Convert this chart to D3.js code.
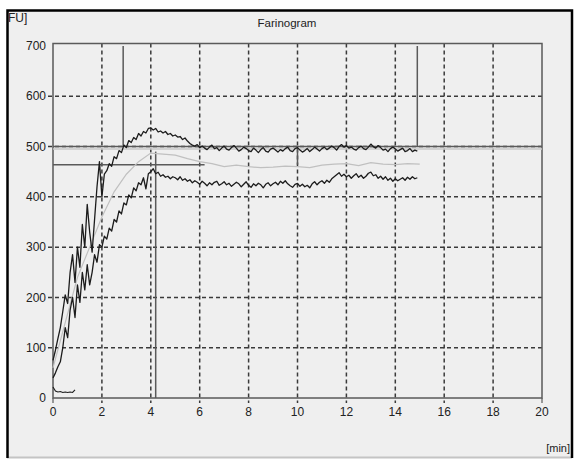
<!DOCTYPE html>
<html>
<head>
<meta charset="utf-8">
<script src="https://d3js.org/d3.v7.min.js"></script>
<style>
    body { margin: 0; background: #ffffff; }
    text { font-family: "Liberation Sans", Arial, sans-serif; fill: #222; }
</style>
</head>
<body>
<div id="container-svg"></div>
<script>

// ***************************** DATA *****************************
var sample_step = 0.1;   // min between samples of the two band curves

// upper edge of the band (FU), from 0.0 to 14.9 min
var upper_fu = [
    75, 95, 118, 140, 172, 205, 188, 250, 285, 230,
    300, 260, 345, 300, 385, 330, 290, 355, 420, 470,
    400, 445, 452, 466, 461, 480, 476, 492, 488, 503,
    498, 512, 508, 518, 514, 526, 521, 530, 527, 536,
    537, 533, 536, 529, 531, 527, 530, 524, 526, 521,
    523, 519, 520, 514, 517, 511, 506, 503, 501, 504,
    498, 501, 497, 494, 499, 503, 496, 498, 492, 497,
    501, 495, 493, 498, 502, 497, 491, 494, 499, 496,
    492, 490, 497, 493, 488, 494, 498, 491, 489, 495,
    497, 493, 489, 494, 491, 496, 499, 492, 490, 496,
    498, 493, 489, 492, 496, 490, 494, 499, 495, 491,
    496, 499, 494, 497, 501, 498, 493, 500, 504, 499,
    502, 497, 499, 495, 493, 498, 501, 496, 494, 499,
    505, 500, 497, 502, 498, 493, 495, 490, 496, 499,
    495, 491, 494, 497, 490, 492, 496, 490, 493, 491
];

// lower edge of the band (FU), from 0.0 to 14.9 min
var lower_fu = [
    40, 50, 62, 72, 100, 140, 120, 175, 200, 160,
    225, 190, 250, 215, 265, 225, 250, 285, 270, 305,
    300, 322, 316, 338, 332, 355, 350, 372, 366, 388,
    384, 404, 398, 418, 412, 428, 424, 438, 416, 446,
    450, 456, 446, 449, 441, 444, 439, 441, 436, 440,
    438, 434, 440, 433, 436, 431, 434, 428, 432, 429,
    425, 431, 427, 422, 428, 424, 429, 431, 423, 426,
    430, 424, 427, 421, 425, 429, 426, 420, 425, 430,
    423, 419, 426, 422, 427, 424, 418, 425, 428, 422,
    426, 429, 424, 431, 427, 432, 426, 422, 419, 425,
    427, 421, 425, 420, 423, 418, 426, 430, 424, 429,
    432, 427, 433, 429, 436, 440, 444, 448, 441, 445,
    440, 443, 437, 442, 446, 439, 443, 437, 441, 447,
    449, 442, 444, 437, 441, 435, 440, 433, 437, 431,
    436, 432, 435, 438, 433, 439, 435, 440, 436, 438
];

// mean curve (grey), every 0.5 min
var mean_min = [0, 0.5, 1, 1.5, 2, 2.5, 3, 3.5, 4, 4.5, 5, 5.5, 6, 6.5, 7, 7.5,
                8, 8.5, 9, 9.5, 10, 10.5, 11, 11.5, 12, 12.5, 13, 13.5, 14, 14.5, 15];
var mean_fu  = [60, 150, 240, 300, 360, 410, 445, 470, 487, 485, 483, 476, 470, 466, 460, 463,
                460, 458, 459, 461, 460, 458, 463, 465, 466, 462, 468, 465, 464, 466, 465];

// short trace near zero
var zero_min = [0, 0.1, 0.2, 0.3, 0.4, 0.5, 0.6, 0.7, 0.8, 0.9];
var zero_fu  = [22, 14, 12, 13, 11, 12, 11, 12, 11, 16];

// evaluation lines
var line_consistency = 500;   // FU, across the whole plot
var line_mid_fu = 464;        // FU, short line to the left
var line_mid_end = 6.2;       // min
var t_arrival = 2.87;         // min
var t_departure = 14.9;       // min
var t_development = 4.2;      // min
var dev_top_fu = 490;
var t_mark10 = 10;            // min

var x_ticks = d3.range(0, 21, 2);
var y_ticks = d3.range(0, 701, 100);

// *********************** GLOBAL DISPLAY VARS ***********************
var svg_width = 574,
    svg_height = 462;

var plot_left = 53,
    plot_right = 542,
    plot_top = 43.5,
    plot_bottom = 398;

var color_bg = "#efefef",
    color_grid = "#3a3a3a",
    color_frame = "#5a5a5a",
    color_curve = "#1c1c1c",
    color_mean = "#c0c0c0";

var svg = d3.select("#container-svg").append("svg")
    .attr("width", svg_width)
    .attr("height", svg_height);

// ***************************** SCALES ******************************
var scale_x = d3.scaleLinear().domain([0, 20]).range([plot_left, plot_right]);
var scale_y = d3.scaleLinear().domain([0, 705]).range([plot_bottom, plot_top]);

// **************************** BACKGROUND ****************************
svg.append("rect")
    .attr("x", 7).attr("y", 10)
    .attr("width", 565).attr("height", 447)
    .attr("fill", color_bg);

// bottom grey edge
svg.append("line")
    .attr("x1", 7).attr("x2", 572)
    .attr("y1", 457.5).attr("y2", 457.5)
    .attr("stroke", "#c4c4c4").attr("stroke-width", 2);

// black frame left, top, right
svg.append("path")
    .attr("d", "M7.5,458 L7.5,10.5 L572,10.5 L572,458")
    .attr("fill", "none")
    .attr("stroke", "#000")
    .attr("stroke-width", 2.5);

// ***************************** GRID *****************************
svg.selectAll("line.vgrid")
    .data(x_ticks.filter(function(d) { return d > 0 && d < 20; }))
    .enter().append("line")
    .attr("class", "vgrid")
    .attr("x1", function(d) { return scale_x(d); })
    .attr("x2", function(d) { return scale_x(d); })
    .attr("y1", plot_top)
    .attr("y2", plot_bottom + 5)
    .attr("stroke", color_grid)
    .attr("stroke-width", 1.5)
    .attr("stroke-dasharray", "4,3");

svg.selectAll("line.hgrid")
    .data(y_ticks.filter(function(d) { return d > 0 && d < 700; }))
    .enter().append("line")
    .attr("class", "hgrid")
    .attr("x1", plot_left - 5)
    .attr("x2", plot_right)
    .attr("y1", function(d) { return scale_y(d); })
    .attr("y2", function(d) { return scale_y(d); })
    .attr("stroke", color_grid)
    .attr("stroke-width", 1.5)
    .attr("stroke-dasharray", "4,3");

// ticks at the ends
svg.append("line")
    .attr("x1", scale_x(0)).attr("x2", scale_x(0))
    .attr("y1", plot_bottom).attr("y2", plot_bottom + 5)
    .attr("stroke", color_frame).attr("stroke-width", 1.2);
svg.append("line")
    .attr("x1", scale_x(20)).attr("x2", scale_x(20))
    .attr("y1", plot_bottom).attr("y2", plot_bottom + 5)
    .attr("stroke", color_frame).attr("stroke-width", 1.2);

// plot frame
svg.append("rect")
    .attr("x", plot_left).attr("y", plot_top)
    .attr("width", plot_right - plot_left)
    .attr("height", plot_bottom - plot_top)
    .attr("fill", "none")
    .attr("stroke", color_frame)
    .attr("stroke-width", 1.5);

// **************************** LABELS *****************************
svg.selectAll("text.ylab")
    .data(y_ticks)
    .enter().append("text")
    .attr("class", "ylab")
    .attr("x", 46)
    .attr("y", function(d) { return scale_y(d); })
    .attr("dy", "0.35em")
    .attr("text-anchor", "end")
    .attr("font-size", 12)
    .text(function(d) { return d; });

svg.selectAll("text.xlab")
    .data(x_ticks)
    .enter().append("text")
    .attr("class", "xlab")
    .attr("x", function(d) { return scale_x(d); })
    .attr("y", 416)
    .attr("text-anchor", "middle")
    .attr("font-size", 12)
    .text(function(d) { return d; });

svg.append("text")
    .attr("x", 287).attr("y", 27)
    .attr("text-anchor", "middle")
    .attr("font-size", 11.5)
    .text("Farinogram");

svg.append("text")
    .attr("x", 8).attr("y", 22)
    .attr("font-size", 12)
    .text("FU]");

svg.append("text")
    .attr("x", 570).attr("y", 452)
    .attr("text-anchor", "end")
    .attr("font-size", 11)
    .text("[min]");

// ************************* EVALUATION LINES *************************
function seg(t1, v1, t2, v2, color, w) {
    svg.append("line")
        .attr("x1", scale_x(t1)).attr("y1", scale_y(v1))
        .attr("x2", scale_x(t2)).attr("y2", scale_y(v2))
        .attr("stroke", color)
        .attr("stroke-width", w);
}

seg(0, line_consistency - 5, 20, line_consistency - 5, "#c8c8c8", 1.5);
seg(0, line_consistency, 20, line_consistency, color_frame, 1.5);
seg(0, line_mid_fu, line_mid_end, line_mid_fu, color_frame, 1.5);
seg(t_arrival, 700, t_arrival, line_consistency, color_frame, 1.5);
seg(t_departure, 700, t_departure, line_consistency, color_frame, 1.5);
seg(t_development, dev_top_fu, t_development, 0, color_frame, 1.5);
seg(t_mark10, line_consistency, t_mark10, line_mid_fu, color_frame, 1.5);

// ***************************** CURVES ******************************
var line_gen = d3.line()
    .x(function(d) { return scale_x(d[0]); })
    .y(function(d) { return scale_y(d[1]); });

function band_points(values) {
    return values.map(function(v, i) { return [i * sample_step, v]; });
}

svg.append("path")
    .attr("d", line_gen(mean_min.map(function(t, i) { return [t, mean_fu[i]]; })))
    .attr("fill", "none")
    .attr("stroke", color_mean)
    .attr("stroke-width", 1.2);

svg.append("path")
    .attr("d", line_gen(zero_min.map(function(t, i) { return [t, zero_fu[i]]; })))
    .attr("fill", "none")
    .attr("stroke", color_curve)
    .attr("stroke-width", 1.1);

[upper_fu, lower_fu].forEach(function(values) {
    svg.append("path")
        .attr("d", line_gen(band_points(values)))
        .attr("fill", "none")
        .attr("stroke", color_curve)
        .attr("stroke-width", 1.3)
        .attr("stroke-linejoin", "round");
});

</script>
</body>
</html>
